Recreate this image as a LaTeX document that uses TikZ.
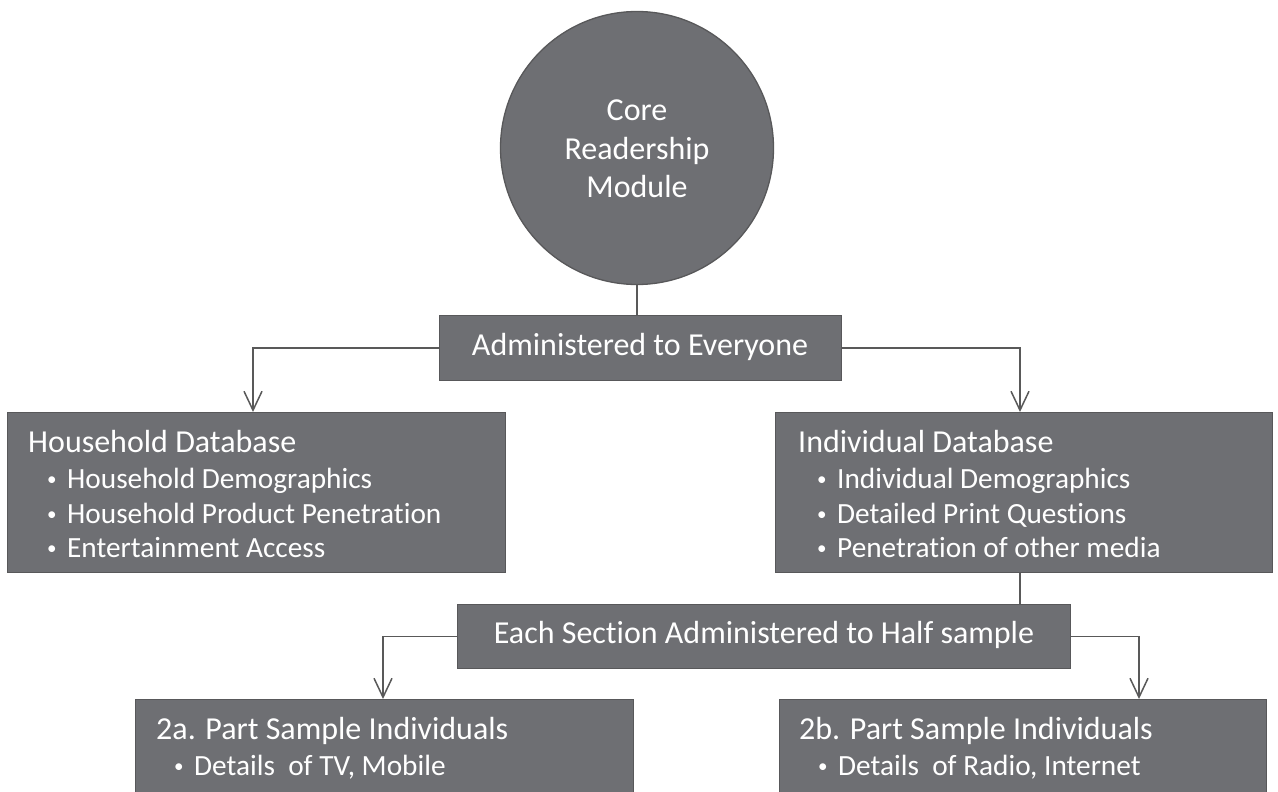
\documentclass[tikz,border=0pt]{standalone}
\usepackage{fontspec}
\setmainfont{Carlito}[Ligatures={NoCommon}]
\usetikzlibrary{arrows.meta}
\definecolor{boxfill}{RGB}{110,111,115}
\definecolor{boxdraw}{RGB}{88,88,90}
\definecolor{linec}{RGB}{89,89,89}
\newcommand{\bul}{\makebox[20pt][l]{\raisebox{0.1em}{\scalebox{0.65}{•}}}}
\begin{document}
\begin{tikzpicture}[x=1pt,y=-1pt,
  box/.style={draw=boxdraw,fill=boxfill,line width=1.3pt,inner sep=0pt,anchor=north west},
  conn/.style={draw=linec,line width=1.5pt},
  arr/.style={conn,-{Straight Barb[length=19pt,width=18pt,line width=1.5pt]}},
  txt/.style={text=white,inner sep=0pt,font=\fontsize{32}{38}\selectfont},
  sub/.style={text=white,inner sep=0pt,font=\fontsize{29.3}{35}\selectfont,anchor=base west},
  ttl/.style={txt,anchor=base west}
]
\useasboundingbox (0,0) rectangle (1278,792);
\fill[white] (0,0) rectangle (1278,792);
\clip (0,0) rectangle (1278,792);

% core circle
\node[circle,draw=boxdraw,fill=boxfill,line width=1.3pt,minimum size=273pt,inner sep=0pt] (core) at (637,148) {};
\node[txt,anchor=base] (c1) at (637,121) {Core};
\node[txt,anchor=base] (c2) at (637,159) {Readership};
\node[txt,anchor=base] (c3) at (637,197) {Module};

% administered box
\node[box,minimum width=402pt,minimum height=65pt] (admin) at (439,315) {};
\node[txt,anchor=base] (admint) at (640,355) {Administered to Everyone};

% household
\node[box,minimum width=498pt,minimum height=160pt] (hh) at (7,412) {};
\node[ttl] (hht) at (28,452) {Household Database};
\node[sub] (hh1) at (47,488) {\bul Household Demographics};
\node[sub] (hh2) at (47,523) {\bul Household Product Penetration};
\node[sub] (hh3) at (47,557) {\bul Entertainment Access};

% individual
\node[box,minimum width=497pt,minimum height=160pt] (ind) at (775,412) {};
\node[ttl] (indt) at (798,452) {Individual Database};
\node[sub] (ind1) at (817,488) {\bul Individual Demographics};
\node[sub] (ind2) at (817,523) {\bul Detailed Print Questions};
\node[sub] (ind3) at (817,557) {\bul Penetration of other media};

% each section
\node[box,minimum width=613pt,minimum height=64pt] (each) at (457,604) {};
\node[txt,anchor=base] (eacht) at (764,643) {Each Section Administered to Half sample};

% part samples
\node[box,minimum width=498pt,minimum height=150pt] (pa) at (135,699) {};
\node[ttl] (pat) at (156,739) {2a. Part Sample Individuals};
\node[sub] (pa1) at (174,775) {\bul Details\ \ of TV, Mobile};

\node[box,minimum width=487pt,minimum height=150pt] (pb) at (779,699) {};
\node[ttl] (pbt) at (799,739) {2b. Part Sample Individuals};
\node[sub] (pb1) at (818,775) {\bul Details\ \ of Radio, Internet};

% connectors
\draw[conn] (core.south) -- (core.south |- admin.north);
\draw[arr] (admin.west) -| ([xshift=246pt]hh.north west);
\draw[arr] (admin.east) -| ([xshift=245pt]ind.north west);
\draw[conn] ([xshift=245pt]ind.south west) -- ([xshift=245pt]ind.south west |- each.north);
\draw[arr] (each.west) -| ([xshift=248pt]pa.north west);
\draw[arr] (each.east) -| ([xshift=360pt]pb.north west);
\end{tikzpicture}
\end{document}
